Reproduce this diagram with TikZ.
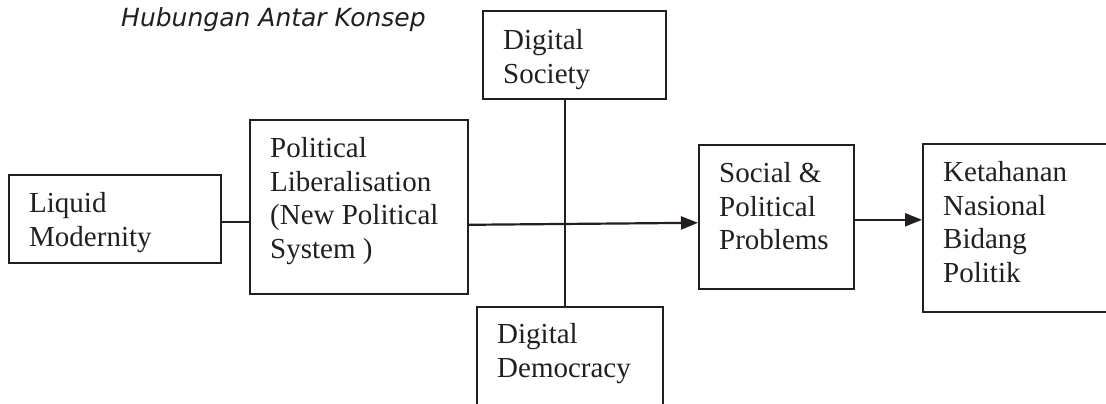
\documentclass[tikz,border=0pt]{standalone}
\usepackage{fontspec}
\setmainfont{Liberation Serif}
\newfontfamily\judulfont{DejaVu Sans}
\usetikzlibrary{calc,arrows.meta,positioning}
\definecolor{ink}{RGB}{35,31,32}
\tikzset{
  konsep/.style={draw=ink,line width=1.6pt,anchor=north west,inner sep=0pt},
  isi/.style={anchor=north west,inner sep=0pt,align=left,text=ink,font=\fontsize{29}{33.7}\selectfont},
  garis/.style={draw=ink,line width=1.6pt},
  panah/.style={draw=ink,line width=2.2pt,-{Triangle[length=17pt,width=13pt]}}
}
\begin{document}
\begin{tikzpicture}[x=1pt,y=-1pt]
\useasboundingbox (0,0) rectangle (1106,404);
\clip (0,0) rectangle (1106,404);
\fill[white] (0,0) rectangle (1106,404);

\node[text=ink,anchor=base west,inner sep=0pt,font=\judulfont\itshape\fontsize{25}{30}\selectfont] (judul) at (121,27) {Hubungan Antar Konsep};

\node[konsep,minimum width=212pt,minimum height=88pt] (lm) at (8,174) {};
\node[konsep,minimum width=218pt,minimum height=174pt] (pol) at (249,119) {};
\node[konsep,minimum width=183pt,minimum height=88pt] (dsoc) at (482,10) {};
\node[konsep,minimum width=186pt,minimum height=130pt] (ddem) at (476,306) {};
\node[konsep,minimum width=155pt,minimum height=144pt] (sos) at (698,144) {};
\node[konsep,minimum width=220pt,minimum height=168pt] (ket) at (922,143) {};

\node[isi] (lm-t) at ([shift={(21,18)}]lm.north west) {Liquid\\Modernity};
\node[isi] (pol-t) at ([shift={(21,18)}]pol.north west) {Political\\Liberalisation\\(New Political\\System )};
\node[isi] (dsoc-t) at ([shift={(21,19)}]dsoc.north west) {Digital\\Society};
\node[isi] (ddem-t) at ([shift={(21,17)}]ddem.north west) {Digital\\Democracy};
\node[isi] (sos-t) at ([shift={(21,18)}]sos.north west) {Social \&\\Political\\Problems};
\node[isi] (ket-t) at ([shift={(21,18)}]ket.north west) {Ketahanan\\Nasional\\Bidang\\Politik};

\draw[garis] ([yshift=-3pt]lm.east) coordinate (lm-k) -- (lm-k -| pol.west);
\draw[garis] ([xshift=-9.5pt]dsoc.south) coordinate (v-a) -- (v-a |- ddem.north);
\draw[panah] ([yshift=-18pt]pol.east) -- ([yshift=-6pt]sos.west);
\draw[panah] ([yshift=-3pt]sos.east) coordinate (sos-k) -- (sos-k -| ket.west);
\end{tikzpicture}
\end{document}
